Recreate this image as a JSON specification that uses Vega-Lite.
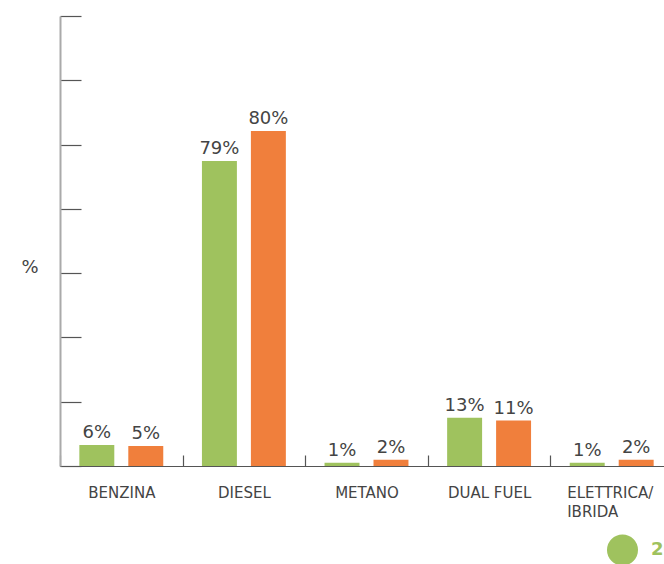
{
  "$schema": "https://vega.github.io/schema/vega-lite/v6.json",
  "width": 604,
  "height": 450,
  "autosize": {"type": "none"},
  "padding": {"left": 60, "top": 16, "right": 0, "bottom": 98},
  "background": "white",
  "config": {"view": {"stroke": null}, "font": "DejaVu Sans"},
  "data": {
    "values": [
      {"tipo": "BENZINA", "anno": "2019", "valore": 5.2, "etichetta": "6%"},
      {"tipo": "BENZINA", "anno": "2020", "valore": 5.0, "etichetta": "5%"},
      {"tipo": "DIESEL", "anno": "2019", "valore": 75.9, "etichetta": "79%"},
      {"tipo": "DIESEL", "anno": "2020", "valore": 83.4, "etichetta": "80%"},
      {"tipo": "METANO", "anno": "2019", "valore": 0.82, "etichetta": "1%"},
      {"tipo": "METANO", "anno": "2020", "valore": 1.57, "etichetta": "2%"},
      {"tipo": "DUAL FUEL", "anno": "2019", "valore": 12.0, "etichetta": "13%"},
      {"tipo": "DUAL FUEL", "anno": "2020", "valore": 11.3, "etichetta": "11%"},
      {"tipo": "ELETTRICA/IBRIDA", "anno": "2019", "valore": 0.82, "etichetta": "1%"},
      {"tipo": "ELETTRICA/IBRIDA", "anno": "2020", "valore": 1.57, "etichetta": "2%"}
    ]
  },
  "encoding": {
    "x": {
      "field": "tipo",
      "type": "nominal",
      "sort": ["BENZINA", "DIESEL", "METANO", "DUAL FUEL", "ELETTRICA/IBRIDA"],
      "scale": {"paddingInner": 0, "paddingOuter": 0, "range": [0, 613]},
      "axis": {
        "title": null,
        "labelAngle": 0,
        "tickBand": "extent",
        "tickSize": -11,
        "tickColor": "#555555",
        "tickWidth": 1.2,
        "domainColor": "#555555",
        "domainWidth": 1.2,
        "labelFont": "DejaVu Sans",
        "labelFontSize": 15,
        "labelColor": "#444444",
        "labelPadding": 30,
        "labelBaseline": "top",
        "labelLineHeight": 19.5,
        "labelAlign": {"condition": {"test": "datum.value == 'ELETTRICA/IBRIDA'", "value": "left"}, "value": "center"},
        "labelOffset": {"condition": {"test": "datum.value == 'ELETTRICA/IBRIDA'", "value": -45}, "value": 0},
        "labelExpr": "datum.value == 'ELETTRICA/IBRIDA' ? ['ELETTRICA/', 'IBRIDA'] : datum.label"
      }
    },
    "xOffset": {
      "field": "anno",
      "type": "nominal",
      "scale": {"paddingInner": 0.286, "paddingOuter": 0.395}
    },
    "y": {
      "field": "valore",
      "type": "quantitative",
      "scale": {"domain": [0, 112], "nice": false},
      "axis": {
        "values": [0, 16, 32, 48, 64, 80, 96, 112],
        "labels": false,
        "grid": false,
        "tickSize": -21,
        "tickColor": "#555555",
        "tickWidth": 1.2,
        "domainColor": "#aaaaaa",
        "domainWidth": 2,
        "title": "%",
        "titleAngle": 0,
        "titleX": -30.5,
        "titleY": 251.5,
        "titleAlign": "center",
        "titleBaseline": "middle",
        "titleFont": "DejaVu Sans",
        "titleFontSize": 18,
        "titleFontWeight": "normal",
        "titleColor": "#444444"
      }
    }
  },
  "layer": [
    {
      "mark": {"type": "bar"},
      "encoding": {
        "color": {
          "field": "anno",
          "type": "nominal",
          "scale": {"domain": ["2019", "2020"], "range": ["#9fc25e", "#f07f3c"]},
          "legend": {
            "title": null,
            "orient": "none",
            "legendX": 547,
            "legendY": 518.5,
            "direction": "horizontal",
            "padding": 0,
            "symbolType": "circle",
            "symbolSize": 961,
            "symbolStrokeWidth": 0,
            "symbolOpacity": 1,
            "labelFont": "DejaVu Sans",
            "labelFontSize": 18,
            "labelFontWeight": "bold",
            "labelOffset": 13,
            "columnPadding": 30,
            "encode": {
              "labels": {
                "update": {
                  "fill": {"signal": "datum.value == '2019' ? '#9fc25e' : '#f07f3c'"}
                }
              }
            }
          }
        }
      }
    },
    {
      "mark": {
        "type": "text",
        "baseline": "alphabetic",
        "dy": -7,
        "fontSize": 18,
        "font": "DejaVu Sans",
        "color": "#444444"
      },
      "encoding": {"text": {"field": "etichetta"}}
    }
  ]
}
